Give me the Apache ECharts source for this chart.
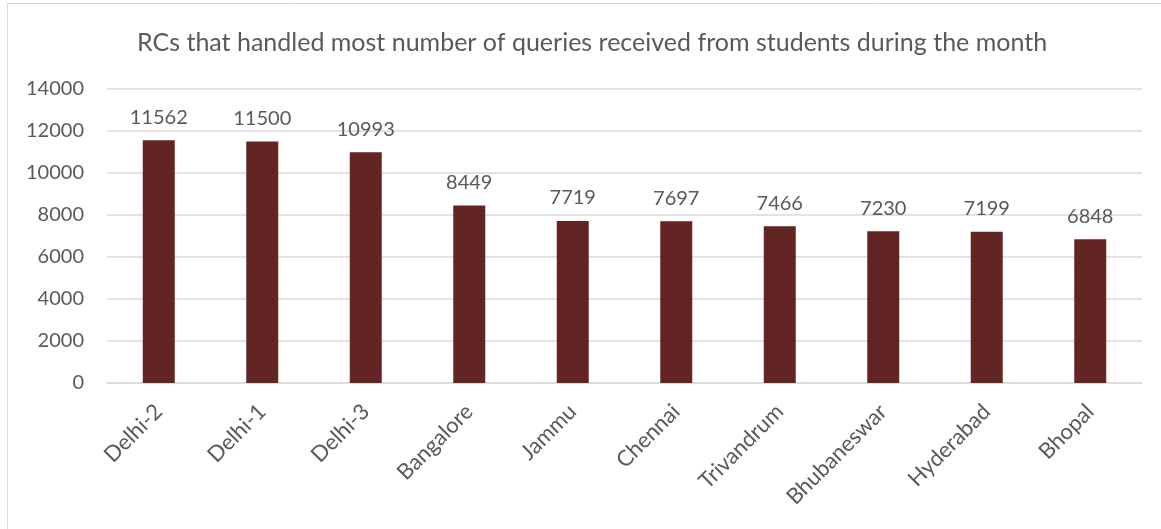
<!DOCTYPE html>
<html><head><meta charset="utf-8">
<script src="https://cdn.jsdelivr.net/npm/echarts@6/dist/echarts.min.js"></script>
<style>html,body{margin:0;padding:0;background:#fff}#c{width:1161px;height:529px}</style>
</head><body><div id="c"></div>
<script>
const titleText = 'RCs that handled most number of queries received from students during the month';
const categories = ['Delhi-2','Delhi-1','Delhi-3','Bangalore','Jammu','Chennai','Trivandrum','Bhubaneswar','Hyderabad','Bhopal'];
const queries = [11562, 11500, 10993, 8449, 7719, 7697, 7466, 7230, 7199, 6848];
const yTicks = [0, 2000, 4000, 6000, 8000, 10000, 12000, 14000];

const FONT = 'Lato, "Open Sans", sans-serif';
const TXT = '#595959';
const chart = echarts.init(document.getElementById('c'), null, {renderer: 'canvas'});
chart.setOption({
  backgroundColor: '#fff',
  animation: false,
  title: {
    text: titleText, left: 132, top: 25,
    textStyle: {fontFamily: FONT, fontSize: 25, fontWeight: 'normal', color: TXT}
  },
  graphic: [
    {type: 'line', shape: {x1: 7, y1: 3.5, x2: 1161, y2: 3.5}, style: {stroke: '#d9d9d9', lineWidth: 1}},
    {type: 'line', shape: {x1: 7.5, y1: 3, x2: 7.5, y2: 529}, style: {stroke: '#d9d9d9', lineWidth: 1}}
  ],
  grid: {left: 107, right: 19, top: 89, bottom: 146},
  xAxis: {
    type: 'category', data: categories,
    axisLine: {lineStyle: {color: '#d9d9d9', width: 1.5}},
    axisTick: {show: false},
    axisLabel: {rotate: 45, margin: 25, color: TXT, fontFamily: FONT, fontSize: 22, interval: 0}
  },
  yAxis: {
    type: 'value', min: yTicks[0], max: yTicks[yTicks.length - 1], interval: 2000,
    axisLine: {show: false}, axisTick: {show: false},
    axisLabel: {color: TXT, fontFamily: FONT, fontSize: 20, margin: 23, formatter: v => String(v)},
    splitLine: {lineStyle: {color: '#d9d9d9', width: 1.5}}
  },
  series: [{
    type: 'bar', data: queries, barWidth: 32,
    itemStyle: {color: '#632523'},
    label: {show: true, position: 'top', distance: 13, color: TXT, fontFamily: FONT, fontSize: 20}
  }]
});
</script></body></html>
